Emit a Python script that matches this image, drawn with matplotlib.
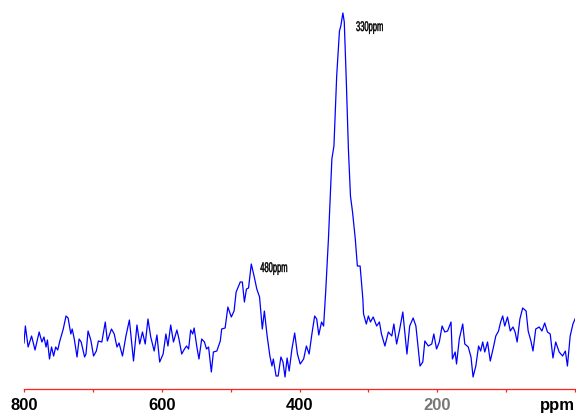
import matplotlib
matplotlib.use("Agg")
import matplotlib.pyplot as plt
from matplotlib.textpath import TextPath
from matplotlib.patches import PathPatch
from matplotlib.font_manager import FontProperties
from matplotlib.transforms import Affine2D, ScaledTranslation

# chemical shift (ppm) and intensity (arb. units)
ppm = [800, 798, 794, 789, 784, 778, 774, 771, 768, 766, 763, 760, 757, 754, 751,
       748, 743, 739, 736, 732, 730, 727, 723, 720, 717, 712, 710, 707, 703, 699,
       695, 692, 687, 682, 679, 673, 669, 665, 662, 657, 652, 647, 641, 636, 632,
       628, 624, 620, 616, 611, 607, 603, 598, 594, 591, 587, 583, 578, 575, 571,
       567, 564, 561, 558, 555, 553, 549, 546, 542, 538, 535, 532, 528, 525, 520,
       515, 513, 508, 504, 499, 495, 492, 486, 483, 480, 477, 474, 470, 466, 462,
       458, 454, 451, 447, 443, 440, 438, 434, 431, 427, 424, 421, 418, 415, 411,
       407, 403, 399, 394, 390, 386, 382, 378, 375, 372, 368, 365, 362, 358, 353,
       350, 346, 342, 340, 337, 335, 332, 329, 326, 323, 319, 316, 312, 310, 308,
       307, 303, 300, 297, 293, 288, 284, 281, 276, 271, 266, 263, 259, 255, 250,
       244, 240, 235, 231, 225, 221, 218, 213, 208, 205, 201, 197, 193, 189, 185,
       180, 178, 174, 172, 168, 163, 160, 155, 151, 148, 144, 140, 137, 134, 131,
       127, 123, 119, 115, 111, 108, 105, 102, 98, 94, 90, 87, 84, 80, 76,
       71, 68, 64, 61, 57, 52, 48, 44, 40, 36, 32, 28, 23, 18, 14,
       11, 7, 3, 0]
intensity = [46, 63, 42, 53, 39, 57, 47, 52, 42, 49, 30, 42, 33, 42, 39,
             48, 60, 73, 71, 55, 60, 50, 32, 50, 47, 32, 35, 58, 49, 33,
             38, 48, 47, 67, 48, 60, 55, 42, 46, 33, 53, 69, 28, 64, 45,
             57, 45, 70, 52, 38, 54, 27, 35, 55, 43, 64, 47, 59, 50, 35,
             40, 43, 40, 59, 55, 61, 42, 30, 50, 47, 40, 42, 17, 37, 38,
             48, 60, 61, 82, 72, 78, 97, 107, 107, 87, 100, 101, 125, 113, 100,
             92, 60, 78, 53, 33, 23, 30, 13, 13, 32, 27, 12, 31, 18, 40,
             56, 35, 25, 30, 43, 35, 55, 73, 70, 54, 67, 63, 97, 150, 230,
             243, 313, 358, 363, 376, 367, 307, 240, 193, 177, 150, 123, 123, 107, 90,
             75, 65, 73, 67, 72, 63, 67, 55, 43, 57, 53, 65, 45, 58, 77,
             35, 63, 71, 63, 23, 27, 48, 43, 45, 55, 40, 47, 63, 57, 58,
             67, 30, 37, 25, 50, 65, 45, 42, 32, 12, 23, 43, 38, 47, 37,
             47, 28, 40, 53, 58, 67, 73, 63, 72, 58, 62, 57, 47, 70, 81,
             78, 58, 48, 38, 60, 62, 58, 66, 57, 55, 31, 47, 37, 33, 38,
             23, 53, 65, 70]

tick_pos = [800, 700, 600, 500, 400, 300, 200, 100, 0]
tick_labels = ["800", "", "600", "", "400", "", "200", "", "ppm"]

peak_labels = ["330ppm", "480ppm"]
peak_ppm = [318, 457]
peak_int = [358, 117]

fig = plt.figure(figsize=(5.76, 4.14), dpi=100)
ax = fig.add_axes([24 / 576, 1 - 390 / 414, 551 / 576, 390 / 414])

ax.plot(ppm, intensity, color="#0000ff", lw=0.9)
ax.set_xlim(800, 0)
ax.set_ylim(0, 390)

for s in ["top", "left", "right"]:
    ax.spines[s].set_visible(False)
ax.spines["bottom"].set_color("#ff2020")
ax.spines["bottom"].set_linewidth(0.9)
ax.set_yticks([])

ax.set_xticks(tick_pos)
ax.set_xticklabels(tick_labels, fontsize=12, fontweight="bold",
                   family=["Liberation Sans", "DejaVu Sans"])
ax.tick_params(axis="x", colors="#ff2020", length=2.5, width=0.9, pad=3.5,
               labelcolor="black")
lbls = ax.get_xticklabels()
lbls[-1].set_ha("right")
lbls[6].set_color("#777777")

# the peak labels are set in a narrow face: squeeze a normal one sideways
fp = FontProperties(family=["Liberation Sans", "DejaVu Sans"])
for txt, x, y in zip(peak_labels, peak_ppm, peak_int):
    tp = TextPath((0, 0), txt, size=14, prop=fp)
    tr = Affine2D().scale(0.54, 1.0) + ScaledTranslation(x, y, ax.transData)
    ax.add_patch(PathPatch(tp, transform=tr, facecolor="black",
                           edgecolor="black", lw=0.3, clip_on=False))

fig.savefig("out.png", dpi=100)
